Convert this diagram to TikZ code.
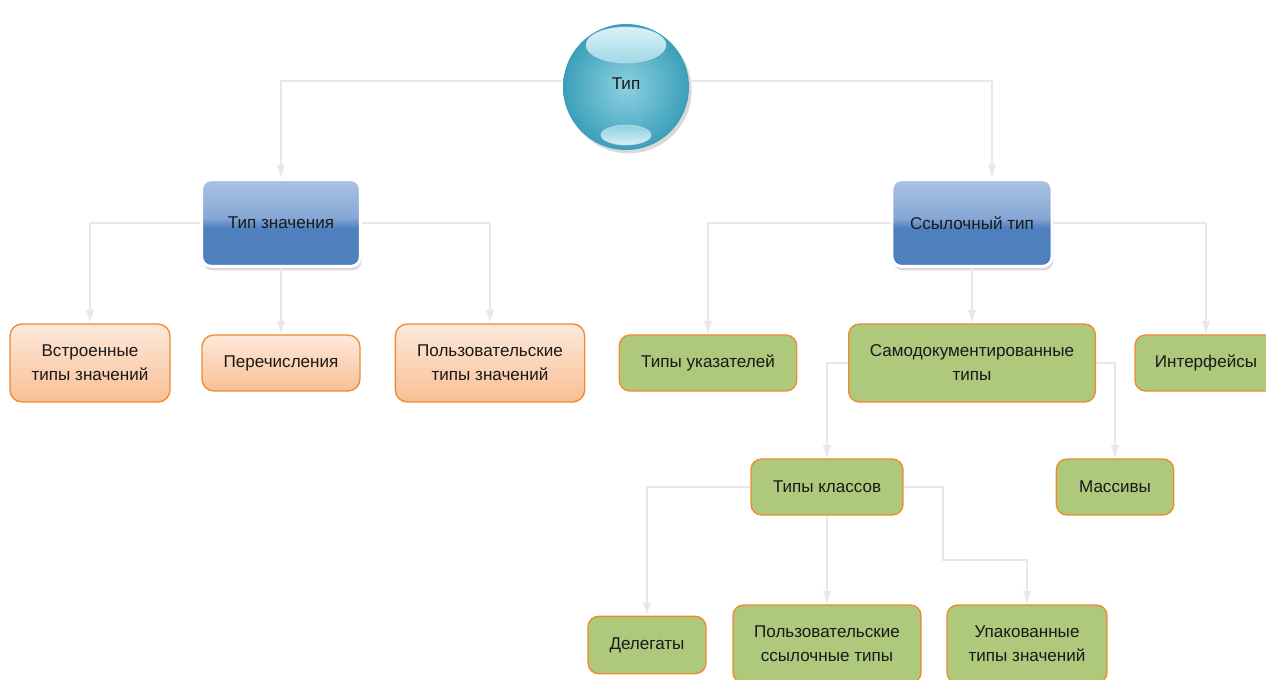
\documentclass[tikz,border=0pt]{standalone}
\usepackage{fontspec}
\setmainfont{Liberation Sans}
\usetikzlibrary{arrows.meta,shadows}

\definecolor{linkgray}{HTML}{E8E8E8}
\definecolor{tealout}{HTML}{3B9FBA}
\definecolor{tealin}{HTML}{8ED1E1}
\definecolor{bluetop}{HTML}{AAC3E4}
\definecolor{bluemid}{HTML}{86A7D5}
\definecolor{bluelow}{HTML}{4F80BE}
\definecolor{peachtop}{HTML}{FDE9DA}
\definecolor{peachlow}{HTML}{F9BF95}
\definecolor{edgeorange}{HTML}{EE8A30}
\definecolor{leafgreen}{HTML}{AFC97C}

\pgfdeclareverticalshading{glassblue}{100bp}{color(0bp)=(bluelow); color(25bp)=(bluelow); color(47bp)=(bluelow); color(53bp)=(bluemid); color(75bp)=(bluetop); color(100bp)=(bluetop)}

\tikzset{
  every node/.style={font=\fontsize{12.8}{18}\selectfont, text=black!90, align=center},
  link/.style={draw=linkgray, line width=1.1pt, -{Latex[length=10pt,width=6.5pt]}},
  tipball/.style={circle, minimum size=94.5pt, inner color=tealin, outer color=tealout,
    drop shadow={shadow xshift=2pt, shadow yshift=-2.5pt, opacity=0.3}},
  kindbox/.style={rectangle, rounded corners=7pt, draw=white, line width=2.2pt, shading=glassblue,
    minimum width=119pt, minimum height=65pt, drop shadow={shadow xshift=1pt, shadow yshift=-3pt, opacity=0.3}},
  valbox/.style={rectangle, rounded corners=9pt, draw=edgeorange, line width=1pt,
    top color=peachtop, bottom color=peachlow, minimum height=42pt},
  refbox/.style={rectangle, rounded corners=8pt, draw=edgeorange, line width=1pt,
    fill=leafgreen, minimum height=42pt},
}

\begin{document}
\begin{tikzpicture}[thick, x=0.75pt, y=-0.75pt]
  \useasboundingbox (0,0) rectangle (1266,680);

  \node[tipball] (tip) at (626,87) {\raisebox{5pt}{Тип}};
  \fill[top color=white!70!tealin, bottom color=tealin!85!white, draw=white!55!tealin, line width=0.4pt] (626,45) ellipse (30pt and 13.5pt);
  \fill[top color=tealin, bottom color=white!65!tealin, draw=white!55!tealin, line width=0.4pt] (626,135) ellipse (18.75pt and 7.5pt);

  \node[kindbox] (val) at (281,223) {Тип значения};
  \node[kindbox, minimum width=120pt] (ref) at (972,223) {Ссылочный тип};

  \node[valbox, minimum width=120pt, minimum height=58.5pt] (builtin) at (90,363) {Встроенные\\типы значений};
  \node[valbox, minimum width=118.5pt] (enum) at (281,363) {Перечисления};
  \node[valbox, minimum width=142pt, minimum height=58.5pt] (userval) at (490,363) {Пользовательские\\типы значений};

  \node[refbox, minimum width=133pt] (ptr) at (708,363) {Типы указателей};
  \node[refbox, minimum width=185pt, minimum height=58.5pt] (selfdoc) at (972,363) {Самодокументированные\\типы};
  \node[refbox, minimum width=106.5pt] (iface) at (1206,363) {Интерфейсы};

  \node[refbox, minimum width=114pt] (cls) at (827,487) {Типы классов};
  \node[refbox, minimum width=88pt] (arrays) at (1115,487) {Массивы};

  \node[refbox, minimum width=88.5pt, minimum height=43pt] (deleg) at (647,645) {Делегаты};
  \node[refbox, minimum width=141pt, minimum height=58.5pt] (userref) at (827,644) {Пользовательские\\ссылочные типы};
  \node[refbox, minimum width=120pt, minimum height=58.5pt] (boxed) at (1027,644) {Упакованные\\типы значений};

  \coordinate (bend) at (943,560);

  \draw[link] ([yshift=4.5pt]tip.west) -| (val.north);
  \draw[link] ([yshift=4.5pt]tip.east) -| ([xshift=15pt]ref.north);

  \draw[link] (val.west) -| (builtin.north);
  \draw[link] (val.south) -- (enum.north);
  \draw[link] (val.east) -| (userval.north);

  \draw[link] (ref.west) -| (ptr.north);
  \draw[link] (ref.south) -- (selfdoc.north);
  \draw[link] (ref.east) -| (iface.north);

  \draw[link] (selfdoc.west) -| (cls.north);
  \draw[link] (selfdoc.east) -| (arrays.north);

  \draw[link] (cls.west) -| (deleg.north);
  \draw[link] (cls.south) -- (userref.north);
  \draw[link] (cls.east) -| (bend) -| (boxed.north);
\end{tikzpicture}
\end{document}
